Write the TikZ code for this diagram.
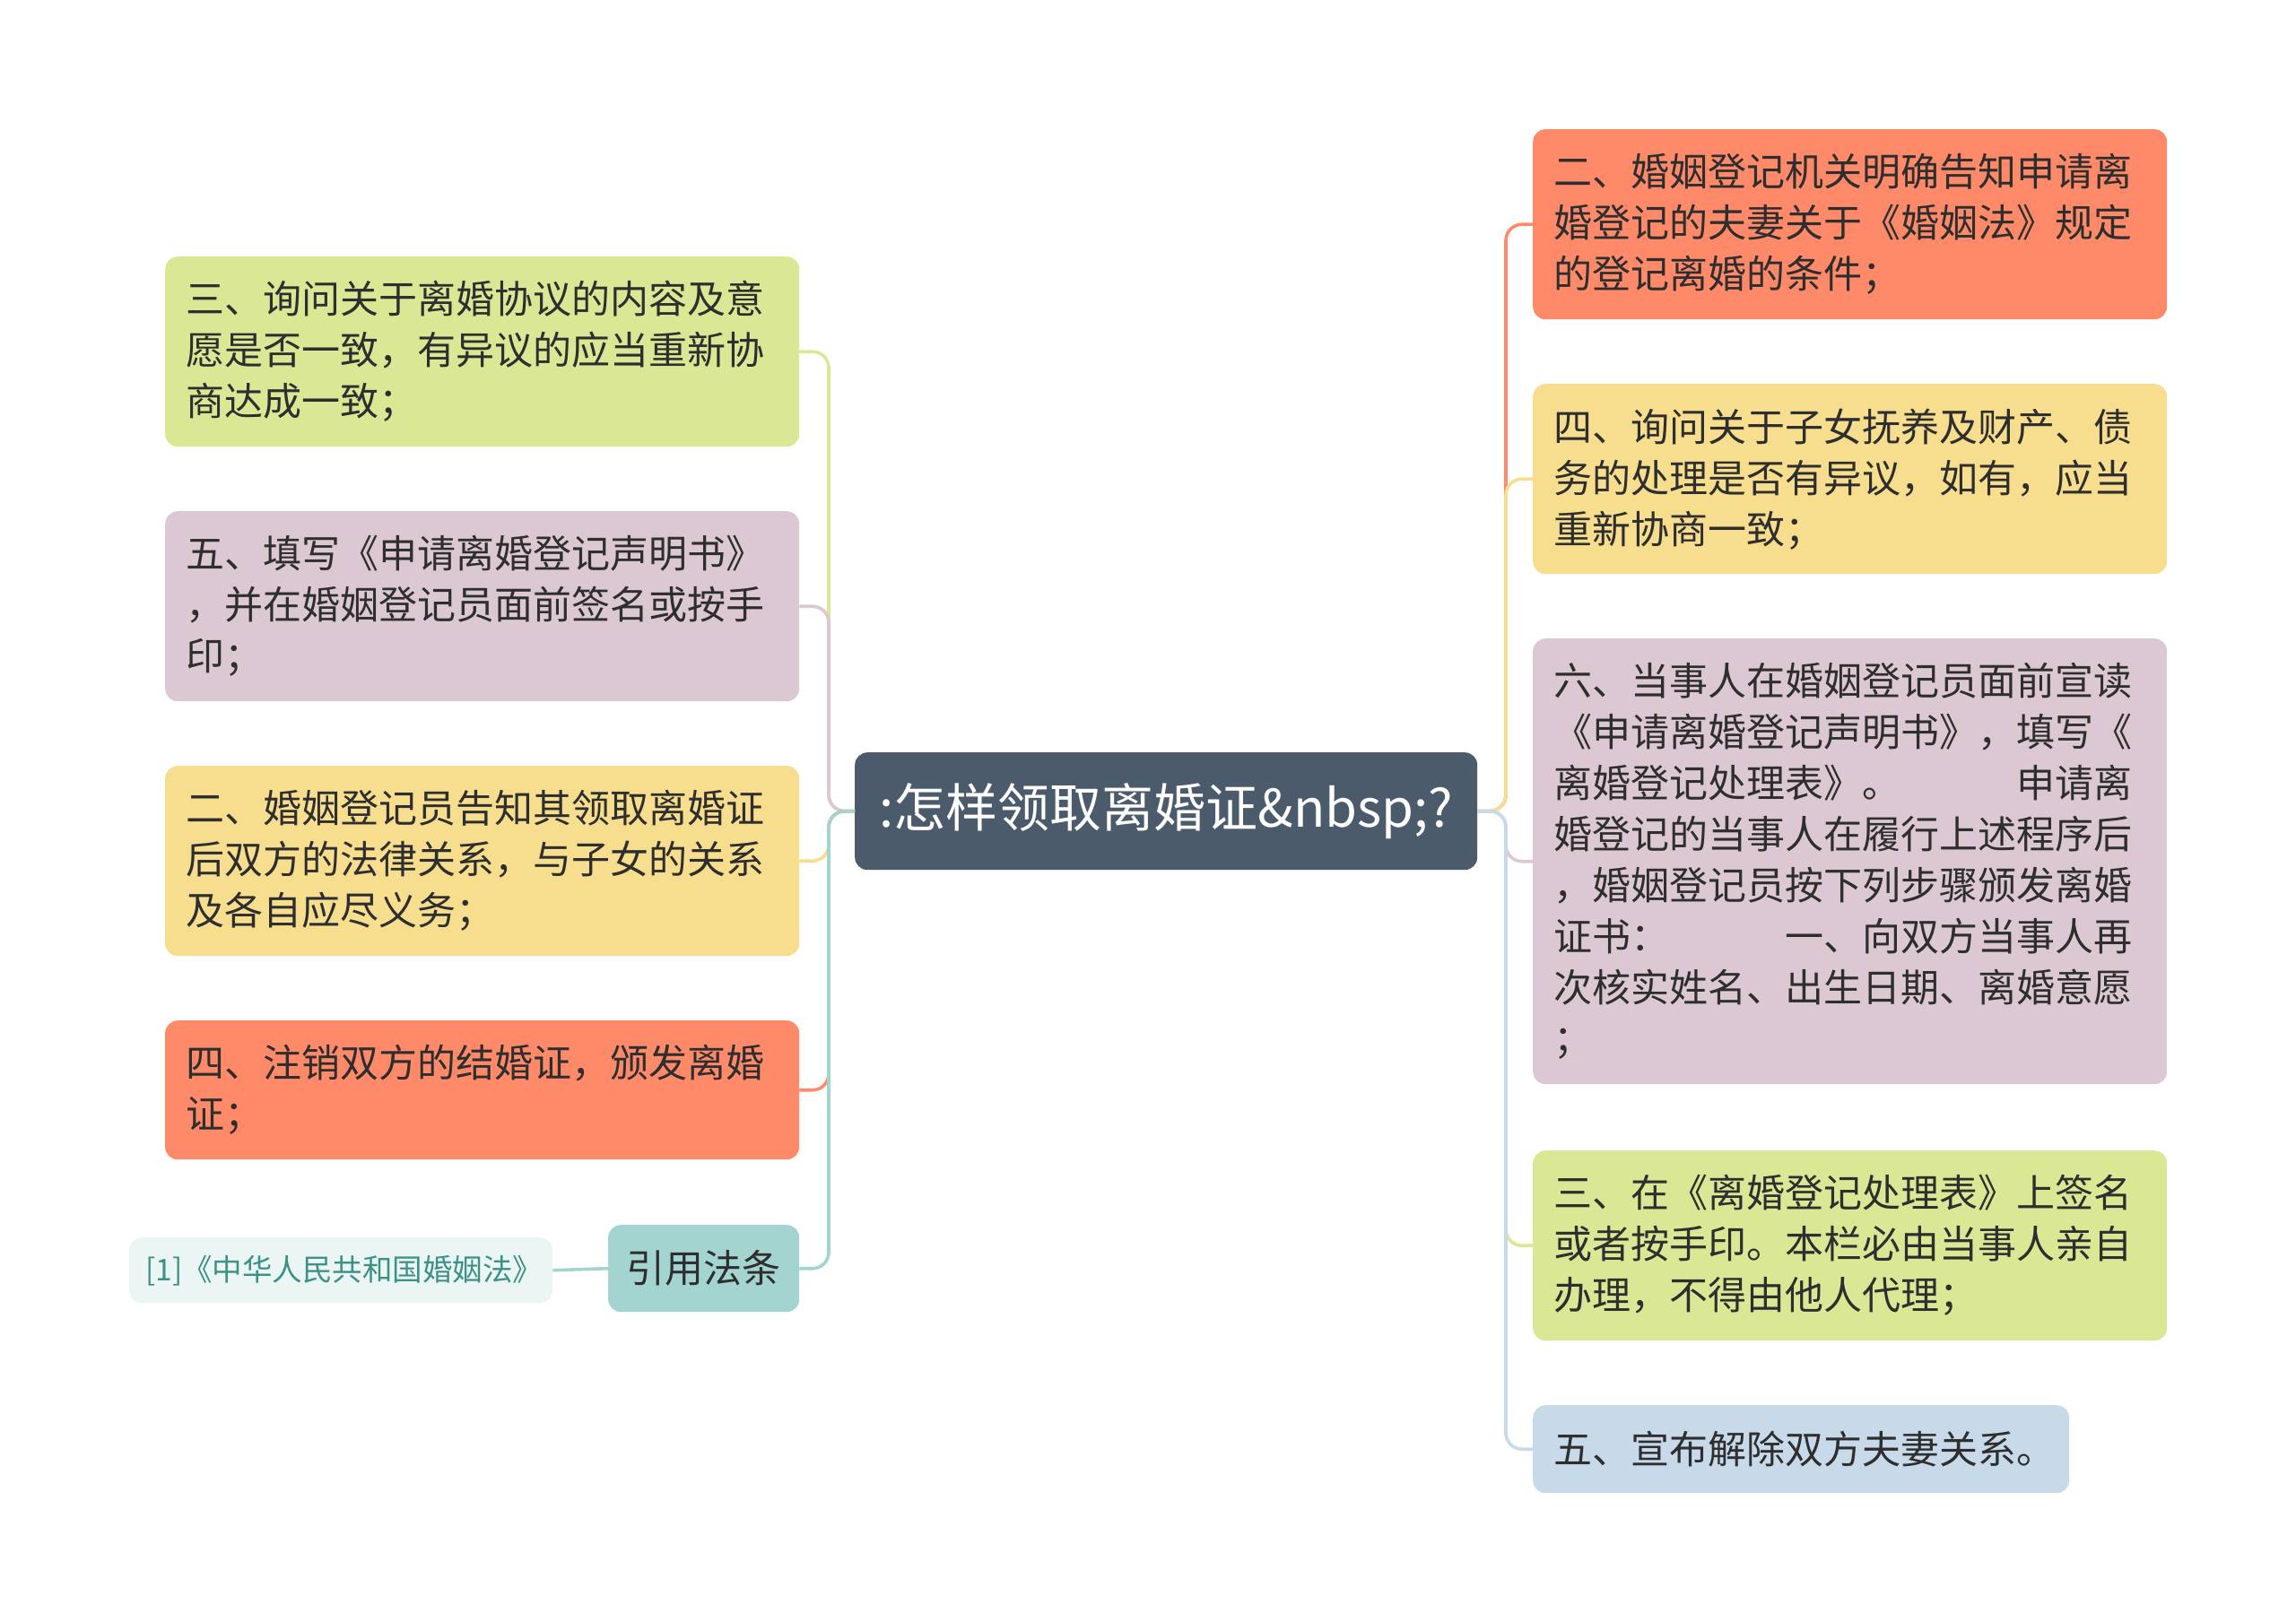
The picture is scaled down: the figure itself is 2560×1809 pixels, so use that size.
\documentclass[tikz,border=0pt]{standalone}
\usepackage{fontspec}
\setmainfont{Noto Sans CJK SC}
\definecolor{corange}{HTML}{FE8A69}
\definecolor{cyellow}{HTML}{F7DE8F}
\definecolor{cpurple}{HTML}{DBC8D2}
\definecolor{cgreen}{HTML}{DAE895}
\definecolor{cblue}{HTML}{C8DAEA}
\definecolor{cteal}{HTML}{A3D4CF}
\definecolor{crefbg}{HTML}{EBF5F4}
\definecolor{cref}{HTML}{3C9185}
\definecolor{cdark}{HTML}{4B5B6B}
\definecolor{txt}{HTML}{2E2E2E}
\begin{document}
\begin{tikzpicture}[x=1pt,y=-1pt,
  every node/.style={font=\fontsize{43}{57}\selectfont, text=txt},
  box/.style={rounded corners=14, anchor=north west, inner xsep=23, inner ysep=0,
    align=left, text width=661},
  conn/.style={line width=3.6, rounded corners=18}
]
\useasboundingbox (0,0) rectangle (2560,1809);

% central
\node[fill=cdark, rounded corners=14, minimum width=694, minimum height=131,
  anchor=north west, text=white, font=\fontsize{58}{70}\selectfont, inner sep=0] (c)
  at (953,839) {:怎样领取离婚证\&nbsp;?};

% left column
\node[box, fill=cgreen, minimum height=212] (l1) at (184,286)
  {三、询问关于离婚协议的内容及意\\愿是否一致，有异议的应当重新协\\商达成一致；};
\node[box, fill=cpurple, minimum height=212] (l2) at (184,570)
  {五、填写《申请离婚登记声明书》\\，并在婚姻登记员面前签名或按手\\印；};
\node[box, fill=cyellow, minimum height=212] (l3) at (184,854)
  {二、婚姻登记员告知其领取离婚证\\后双方的法律关系，与子女的关系\\及各自应尽义务；};
\node[box, fill=corange, minimum height=155] (l4) at (184,1138)
  {四、注销双方的结婚证，颁发离婚\\证；};
\node[fill=cteal, rounded corners=14, minimum width=213, minimum height=97,
  anchor=north west, inner sep=0] (cite) at (678,1366) {引用法条};
\node[fill=crefbg, rounded corners=14, minimum height=73, anchor=north west,
  inner xsep=18, inner ysep=0, text width=436, align=left, text=cref,
  font=\fontsize{33.5}{40}\selectfont] (ref) at (144,1380) {[1]《中华人民共和国婚姻法》};

% right column
\node[box, fill=corange, minimum height=212] (r1) at (1709,144)
  {二、婚姻登记机关明确告知申请离\\婚登记的夫妻关于《婚姻法》规定\\的登记离婚的条件；};
\node[box, fill=cyellow, minimum height=212] (r2) at (1709,428)
  {四、询问关于子女抚养及财产、债\\务的处理是否有异议，如有，应当\\重新协商一致；};
\node[box, fill=cpurple, minimum height=497] (r3) at (1709,712)
  {六、当事人在婚姻登记员面前宣读\\《申请离婚登记声明书》，填写《\\离婚登记处理表》。\hspace{3em}申请离\\婚登记的当事人在履行上述程序后\\，婚姻登记员按下列步骤颁发离婚\\证书：\hspace{3em}一、向双方当事人再\\次核实姓名、出生日期、离婚意愿\\；};
\node[box, fill=cgreen, minimum height=212] (r4) at (1709,1283)
  {三、在《离婚登记处理表》上签名\\或者按手印。本栏必由当事人亲自\\办理，不得由他人代理；};
\node[box, fill=cblue, minimum height=98, text width=552] (r5) at (1709,1567)
  {五、宣布解除双方夫妻关系。};

% trunks
\coordinate (lt) at (924,904.5);
\coordinate (rt) at (1679,904.5);

% connectors
\draw[conn, cgreen]  (c.west) -- (lt) |- (l1.east);
\draw[conn, cpurple] (c.west) -- (lt) |- (l2.east);
\draw[conn, cyellow] (c.west) -- (lt) |- (l3.east);
\draw[conn, corange] (c.west) -- (lt) |- (l4.east);
\draw[conn, cteal]   (c.west) -- (lt) |- (cite.east);
\draw[conn, cteal]   (cite.west) -- (ref.east);

\draw[conn, corange] (c.east) -- (rt) |- (r1.west);
\draw[conn, cyellow] (c.east) -- (rt) |- (r2.west);
\draw[conn, cpurple] (c.east) -- (rt) |- (r3.west);
\draw[conn, cgreen]  (c.east) -- (rt) |- (r4.west);
\draw[conn, cblue]   (c.east) -- (rt) |- (r5.west);
\end{tikzpicture}
\end{document}
